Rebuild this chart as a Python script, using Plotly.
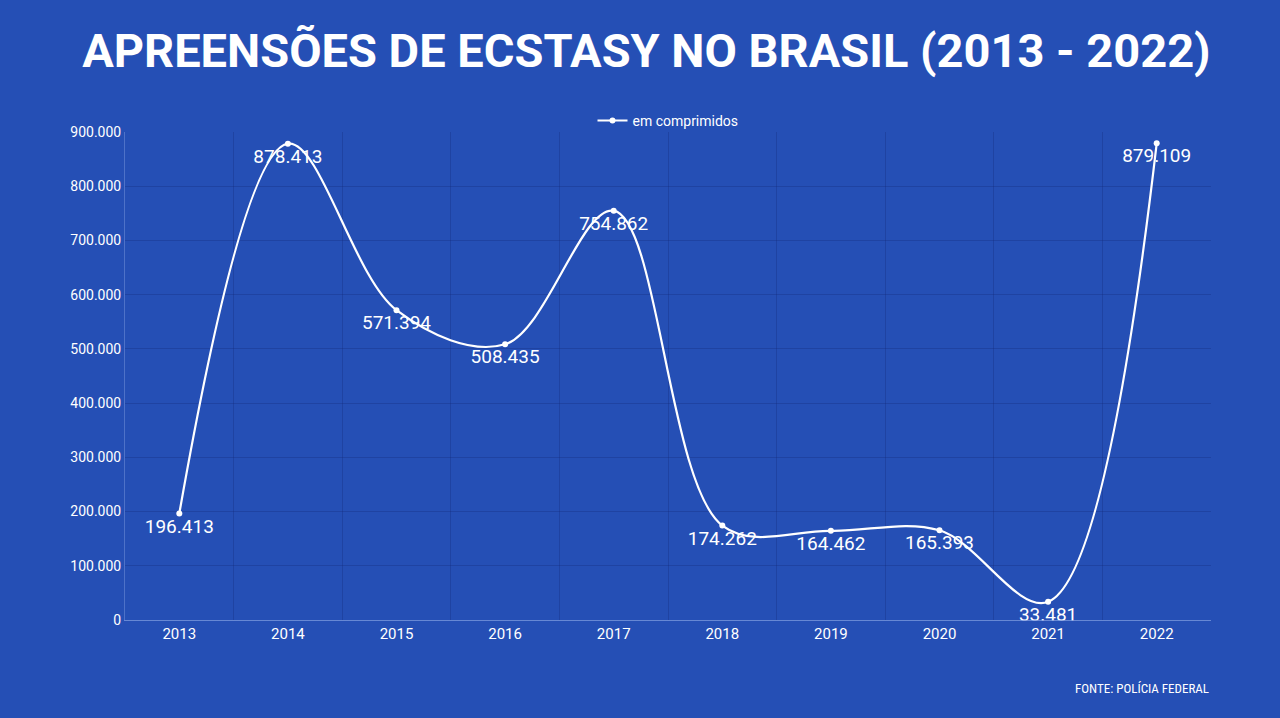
import plotly.graph_objects as go

years = ["2013", "2014", "2015", "2016", "2017", "2018", "2019", "2020", "2021", "2022"]
values = [196413, 878413, 571394, 508435, 754862, 174262, 164462, 165393, 33481, 879109]
labels = ["196.413", "878.413", "571.394", "508.435", "754.862", "174.262", "164.462", "165.393", "33.481", "879.109"]

BG = "#254fb5"
GRID = "rgba(20,40,120,0.30)"

fig = go.Figure()
fig.add_trace(go.Scatter(
    x=years, y=values, mode="lines+markers+text",
    name="em comprimidos",
    line=dict(color="white", width=2.2, shape="spline", smoothing=1.0),
    marker=dict(color="white", size=6),
    text=labels, textposition="bottom center",
    textfont=dict(color="white", size=19, family="Roboto"),
    cliponaxis=False,
))

fig.update_layout(
    width=1280, height=718,
    paper_bgcolor=BG, plot_bgcolor=BG,
    margin=dict(l=125, r=69, t=132, b=98),
    separators=",.",
    font=dict(family="Roboto", color="white", size=13),
    title=dict(text="<b>APREENSÕES DE ECSTASY NO BRASIL (2013 - 2022)</b>",
               x=0.505, xanchor="center", y=0.93, yanchor="middle",
               font=dict(size=47, family="Roboto", color="white")),
    showlegend=True,
    legend=dict(orientation="h", x=0.5, xanchor="center", y=0.99, yanchor="bottom",
                font=dict(size=14, color="white"), bgcolor="rgba(0,0,0,0)",
                itemwidth=30),
    xaxis=dict(type="category", tickson="boundaries", showgrid=True, gridcolor=GRID,
               gridwidth=1, showline=True, linecolor="rgba(120,150,220,0.8)",
               ticks="", tickfont=dict(size=15, color="white"), zeroline=False,
               range=[-0.5, 9.5]),
    yaxis=dict(range=[0, 900000], tickvals=[0, 100000, 200000, 300000, 400000, 500000, 600000, 700000, 800000, 900000],
               tickformat=",d", showgrid=True, gridcolor=GRID, gridwidth=1,
               zeroline=False, showline=True, linecolor="rgba(120,150,220,0.5)",
               tickfont=dict(size=14, color="white"), ticks="", ticklen=0),
)

fig.add_annotation(text="FONTE: POLÍCIA FEDERAL", xref="paper", yref="paper",
                   x=1.0, y=-0.14, xanchor="right", yanchor="middle", showarrow=False,
                   font=dict(size=13, color="white", family="Roboto Condensed, Roboto"))

fig.write_html("out.html", config={"displayModeBar": False},
               post_script="document.body.style.margin='0';document.body.style.overflow='hidden';")
